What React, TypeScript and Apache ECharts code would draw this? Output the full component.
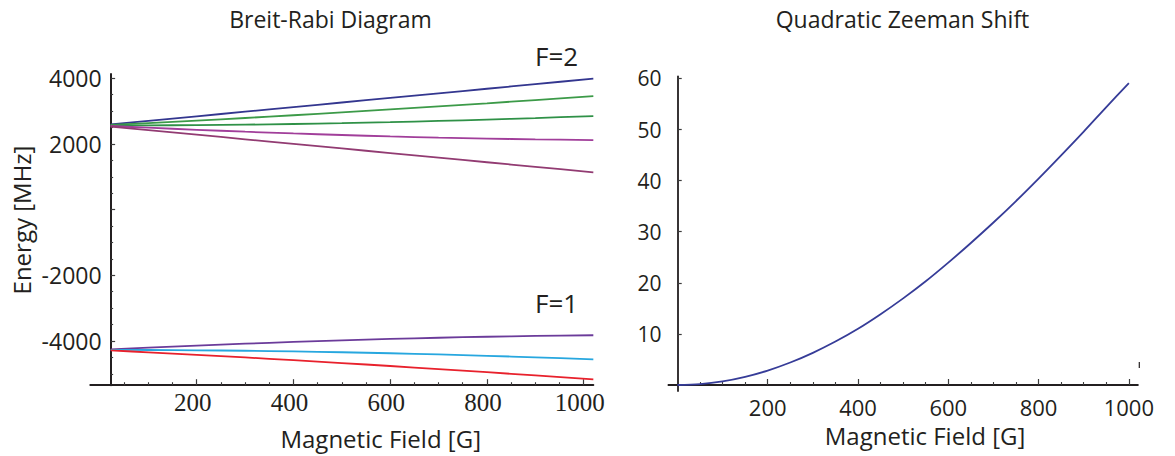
import React, { useEffect, useRef } from "react";
import * as echarts from "echarts";

// Breit-Rabi levels of the ground state, energies in MHz vs field in G
const fieldBR = [22, 100, 200, 300, 400, 500, 600, 700, 800, 900, 1020];
const f2m2 = [2593.8, 2702.9, 2842.8, 2982.8, 3122.7, 3262.6, 3402.5, 3542.4, 3682.3, 3822.3, 3990.2];
const f2m1 = [2578.5, 2635.1, 2711.2, 2791.1, 2874.6, 2961.4, 3051.3, 3144.1, 3239.5, 3337.5, 3458.2];
const f2m0 = [2563.1, 2565.9, 2574.5, 2588.8, 2608.7, 2634.2, 2665.0, 2701.1, 2742.4, 2788.5, 2850.1];
const f2mm1 = [2547.7, 2495.2, 2432.1, 2373.7, 2320.5, 2272.7, 2230.5, 2194.2, 2164.0, 2140.0, 2119.7];
const f2mm2 = [2532.2, 2423.1, 2283.2, 2143.2, 2003.3, 1863.4, 1723.5, 1583.6, 1443.7, 1303.7, 1135.8];
const f1mm1 = [-4256.3, -4203.6, -4140.2, -4081.6, -4028.1, -3980.0, -3937.5, -3900.9, -3870.4, -3846.2, -3825.5];
const f1m0 = [-4271.8, -4274.6, -4283.2, -4297.5, -4317.4, -4342.8, -4373.7, -4409.8, -4451.0, -4497.2, -4558.8];
const f1m1 = [-4287.2, -4344.0, -4420.4, -4500.6, -4584.4, -4671.5, -4761.6, -4854.7, -4950.4, -5048.7, -5169.7];

// Quadratic Zeeman shift of the clock transition
const fieldQZ = [0, 50, 100, 150, 200, 250, 300, 350, 400, 450, 500, 550, 600, 650, 700, 750, 800, 850, 900, 950, 1000];
const shiftQZ = [0, 0.18, 0.71, 1.6, 2.83, 4.4, 6.3, 8.5, 11.0, 13.85, 16.95, 20.3, 23.95, 27.8, 31.8, 36.0, 40.4, 44.95, 49.6, 54.4, 59.1];

// Tick positions
const brMajorX = [200, 400, 600, 800, 1000];
const brMinorX = [50, 100, 150, 250, 300, 350, 450, 500, 550, 650, 700, 750, 850, 900, 950];
const brMajorY = [-4000, -2000, 0, 2000, 4000];
const brLabelY = [-4000, -2000, 2000, 4000];
const brMinorY = [-5000, -4500, -3500, -3000, -2500, -1500, -1000, -500, 500, 1000, 1500, 2500, 3000, 3500];
const qzMajorX = [200, 400, 600, 800, 1000];
const qzMinorX = [50, 100, 150, 250, 300, 350, 450, 500, 550, 650, 700, 750, 850, 900, 950];
const qzMajorY = [10, 20, 30, 40, 50, 60];

const INK = "#231f20";
const TICK = "#3c3c3c";
const SANS = "Open Sans, Noto Sans, sans-serif";
const SERIF = "Liberation Serif";

const pairs = (xs: number[], ys: number[]) => xs.map((x, i) => [x, ys[i]]);
const plain = (v: number) => String(v);

function line(data: number[][], color: string, xi: number, yi: number) {
  return {
    type: "line",
    xAxisIndex: xi,
    yAxisIndex: yi,
    data,
    symbol: "none",
    showSymbol: false,
    silent: true,
    clip: false,
    smooth: 0.3,
    lineStyle: { color, width: 1.8 },
  };
}

export default function App() {
  const ref = useRef<HTMLDivElement>(null);

  useEffect(() => {
    if (!ref.current) return;
    const chart = echarts.init(ref.current, undefined, { renderer: "svg" });

    const option = {
      animation: false,
      backgroundColor: "#ffffff",
      grid: [
        { left: 90.33, top: 74, width: 503, height: 311.2, outerBoundsMode: "none" },
        { left: 668.4, top: 76.5, width: 469.5, height: 314.55, outerBoundsMode: "none" },
      ],
      xAxis: [
        {
          type: "value", gridIndex: 0, min: -20, max: 1020, position: "bottom",
          axisLine: { show: true, onZero: false, lineStyle: { color: INK, width: 2 } },
          axisTick: { show: true, inside: true, length: 6, customValues: brMajorX, lineStyle: { color: TICK, width: 1.2 } },
          axisLabel: {
            show: true, customValues: brMajorX, formatter: plain, margin: 5, padding: [0, 8, 0, 0],
            fontFamily: SERIF, fontStyle: "normal", fontWeight: "normal", fontSize: 25, color: INK,
          },
          splitLine: { show: false },
        },
        {
          type: "value", gridIndex: 0, min: -20, max: 1020, position: "bottom",
          axisLine: { show: false, onZero: false },
          axisTick: { show: true, inside: true, length: 3, customValues: brMinorX, lineStyle: { color: TICK, width: 1.1 } },
          axisLabel: { show: false },
          splitLine: { show: false },
        },
        {
          type: "value", gridIndex: 1, min: -20, max: 1020, position: "bottom",
          axisLine: { show: true, onZero: true, onZeroAxisIndex: 2, lineStyle: { color: INK, width: 1.8 } },
          axisTick: { show: true, inside: true, length: 6, customValues: qzMajorX, lineStyle: { color: TICK, width: 1.2 } },
          axisLabel: {
            show: true, customValues: qzMajorX, formatter: plain, margin: 5,
            color: INK, fontFamily: SANS, fontSize: 22,
          },
          splitLine: { show: false },
        },
        {
          type: "value", gridIndex: 1, min: -20, max: 1020, position: "bottom",
          axisLine: { show: false, onZero: true, onZeroAxisIndex: 2 },
          axisTick: { show: true, inside: true, length: 3, customValues: qzMinorX, lineStyle: { color: TICK, width: 1.1 } },
          axisLabel: { show: false },
          splitLine: { show: false },
        },
      ],
      yAxis: [
        {
          type: "value", gridIndex: 0, min: -5346, max: 4131, position: "left", offset: -20.3,
          axisLine: { show: true, onZero: false, lineStyle: { color: INK, width: 2 } },
          axisTick: { show: true, inside: true, length: 4.5, customValues: brMajorY, lineStyle: { color: TICK, width: 1.2 } },
          axisLabel: {
            show: true, customValues: brLabelY, formatter: plain, margin: 9,
            color: INK, fontFamily: SANS, fontSize: 23,
          },
          splitLine: { show: false },
        },
        {
          type: "value", gridIndex: 0, min: -5346, max: 4131, position: "left", offset: -20.3,
          axisLine: { show: false, onZero: false },
          axisTick: { show: true, inside: true, length: 2.5, customValues: brMinorY, lineStyle: { color: TICK, width: 1.1 } },
          axisLabel: { show: false },
          splitLine: { show: false },
        },
        {
          type: "value", gridIndex: 1, min: -1.184, max: 60.38, position: "left",
          axisLine: { show: true, onZero: true, onZeroAxisIndex: 2, lineStyle: { color: INK, width: 1.8 } },
          axisTick: { show: true, inside: true, length: 4.3, customValues: qzMajorY, lineStyle: { color: TICK, width: 1.2 } },
          axisLabel: {
            show: true, customValues: qzMajorY, formatter: plain, margin: 7,
            color: INK, fontFamily: SANS, fontSize: 21,
          },
          splitLine: { show: false },
        },
      ],
      series: [
        line(pairs(fieldBR, f2m2), "#33368f", 0, 0),
        line(pairs(fieldBR, f2m1), "#3c9a48", 0, 0),
        line(pairs(fieldBR, f2m0), "#2f9147", 0, 0),
        line(pairs(fieldBR, f2mm1), "#a13e9a", 0, 0),
        line(pairs(fieldBR, f2mm2), "#923b72", 0, 0),
        line(pairs(fieldBR, f1mm1), "#6b3b9a", 0, 0),
        line(pairs(fieldBR, f1m0), "#27a7df", 0, 0),
        line(pairs(fieldBR, f1m1), "#e8212c", 0, 0),
        line(pairs(fieldQZ, shiftQZ), "#363c98", 2, 2),
      ],
      graphic: [
        {
          type: "text", x: 330.5, y: 19, silent: true,
          style: { text: "Breit-Rabi Diagram", fill: INK, fontFamily: SANS, fontSize: 23, align: "center", verticalAlign: "middle" },
        },
        {
          type: "text", x: 902.5, y: 19, silent: true,
          style: { text: "Quadratic Zeeman Shift", fill: INK, fontFamily: SANS, fontSize: 23, align: "center", verticalAlign: "middle" },
        },
        {
          type: "text", x: 535, y: 56, silent: true,
          style: { text: "F=2", fill: INK, fontFamily: SANS, fontSize: 26, align: "left", verticalAlign: "middle" },
        },
        {
          type: "text", x: 535, y: 303.2, silent: true,
          style: { text: "F=1", fill: INK, fontFamily: SANS, fontSize: 26, align: "left", verticalAlign: "middle" },
        },
        {
          type: "text", x: 380.7, y: 438.2, silent: true,
          style: { text: "Magnetic Field [G]", fill: INK, fontFamily: SANS, fontSize: 24, align: "center", verticalAlign: "middle" },
        },
        {
          type: "text", x: 925, y: 435.7, silent: true,
          style: { text: "Magnetic Field [G]", fill: INK, fontFamily: SANS, fontSize: 24, align: "center", verticalAlign: "middle" },
        },
        {
          type: "text", x: 21, y: 220, rotation: Math.PI / 2, silent: true,
          style: { text: "Energy [MHz]", fill: INK, fontFamily: SANS, fontSize: 24, align: "center", verticalAlign: "middle" },
        },
        {
          type: "line", silent: true,
          shape: { x1: 1139.3, y1: 362, x2: 1139.3, y2: 368 },
          style: { stroke: INK, lineWidth: 1.2 },
        },
      ],
    };

    chart.setOption(option as any);
    return () => chart.dispose();
  }, []);

  return (
    <div
      ref={ref}
      style={{ position: "fixed", left: 0, top: 0, width: 1175, height: 456, background: "#ffffff" }}
    />
  );
}
